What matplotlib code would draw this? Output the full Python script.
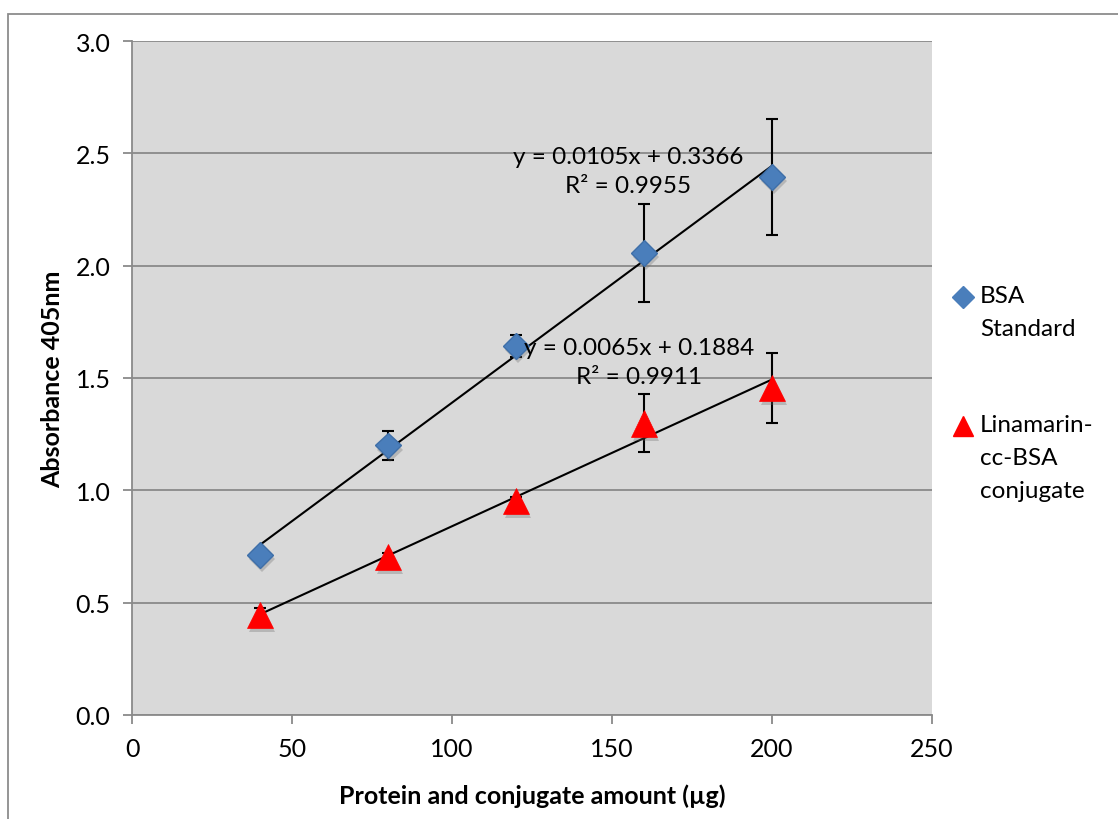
import numpy as np
import matplotlib
matplotlib.use("Agg")
import matplotlib.pyplot as plt
import matplotlib.patheffects as pe
from matplotlib.lines import Line2D
from matplotlib.patches import Rectangle

plt.rcParams['font.family'] = ['Lato', 'DejaVu Sans']

# data
amount = [40, 80, 120, 160, 200]
bsa = [0.713, 1.200, 1.642, 2.056, 2.394]
bsa_err = [0.02, 0.063, 0.05, 0.217, 0.258]
lin = [0.446, 0.703, 0.952, 1.298, 1.455]
lin_err = [0.03, 0.02, 0.02, 0.129, 0.156]

bsa_eq = "y = 0.0105x + 0.3366\nR² = 0.9955"
lin_eq = "y = 0.0065x + 0.1884\nR² = 0.9911"
bsa_name = "BSA\nStandard"
lin_name = "Linamarin-\ncc-BSA\nconjugate"

x_ticks = [0, 50, 100, 150, 200, 250]
y_ticks = [0.0, 0.5, 1.0, 1.5, 2.0, 2.5, 3.0]

fig = plt.figure(figsize=(11.18, 8.2), dpi=100)
ax = fig.add_axes([132 / 1118, 1 - 716 / 820, 800 / 1118, 674 / 820])

# outer chart border (only top and left visible in the original)
fig.add_artist(Rectangle((8 / 1118, -0.1), 1.2, 1 - 15 / 820 + 0.1,
                         transform=fig.transFigure, fill=False,
                         edgecolor='#8c8c8c', lw=1.3))

ax.set_facecolor('#d9d9d9')
ax.set_xlim(0, 250)
ax.set_ylim(0, 3.0)
ax.set_xticks(x_ticks)
ax.set_yticks(y_ticks)
ax.set_yticklabels(["%.1f" % v for v in y_ticks])
ax.grid(axis='y', color='#8a8a8a', lw=1.3)
ax.set_axisbelow(True)
for s in ['top', 'right']:
    ax.spines[s].set_visible(False)
for s in ['left', 'bottom']:
    ax.spines[s].set_color('#8a8a8a')
    ax.spines[s].set_linewidth(1.3)
ax.tick_params(direction='out', length=6.5, width=1.3, color='#8a8a8a',
               labelsize=18, pad=9)

shadow = [pe.SimplePatchShadow(offset=(1.5, -3), shadow_rgbFace='#666666', alpha=0.3), pe.Normal()]

x = np.array(amount)
for ys, err, eq, eqpos in [(bsa, bsa_err, bsa_eq, (155, 2.42)),
                           (lin, lin_err, lin_eq, (158.5, 1.57))]:
    k, b = np.polyfit(x, ys, 1)
    ax.plot([x[0], x[-1]], [k * x[0] + b, k * x[-1] + b], color='black', lw=1.5, zorder=4)
    ax.errorbar(x, ys, yerr=err, fmt='none', ecolor='black', elinewidth=1.5,
                capsize=4.5, capthick=1.5, zorder=3)
    ax.text(eqpos[0], eqpos[1], eq, ha='center', va='center', fontsize=17.5,
            linespacing=1.45, zorder=6)

ax.plot(x, bsa, ls='none', marker='D', ms=13, mfc='#4a7ebb', mec='#3f6fa8',
        mew=1, zorder=5, path_effects=shadow)
ax.plot(x, lin, ls='none', marker='^', ms=19, mfc='#ff0000', mec='#ff0000',
        mew=0.5, zorder=5, path_effects=shadow)

ax.set_xlabel("Protein and conjugate amount (µg)", fontsize=18, fontweight='bold', labelpad=17)
ax.set_ylabel("Absorbance 405nm", fontsize=18, fontweight='bold', labelpad=8)

# legend, marker lined up with the first text line as in the original
for name, mk, ms, col, ytop in [(bsa_name, 'D', 11, '#4a7ebb', 298),
                                (lin_name, '^', 15, '#ff0000', 427)]:
    fig.add_artist(Line2D([963 / 1118], [1 - ytop / 820], marker=mk, ms=ms,
                          mfc=col, mec=col, ls='none', transform=fig.transFigure))
    fig.text(980 / 1118, 1 - (ytop - 12) / 820, name, ha='left', va='top',
             fontsize=17.5, linespacing=1.7)

fig.savefig("out.png", dpi=100)
